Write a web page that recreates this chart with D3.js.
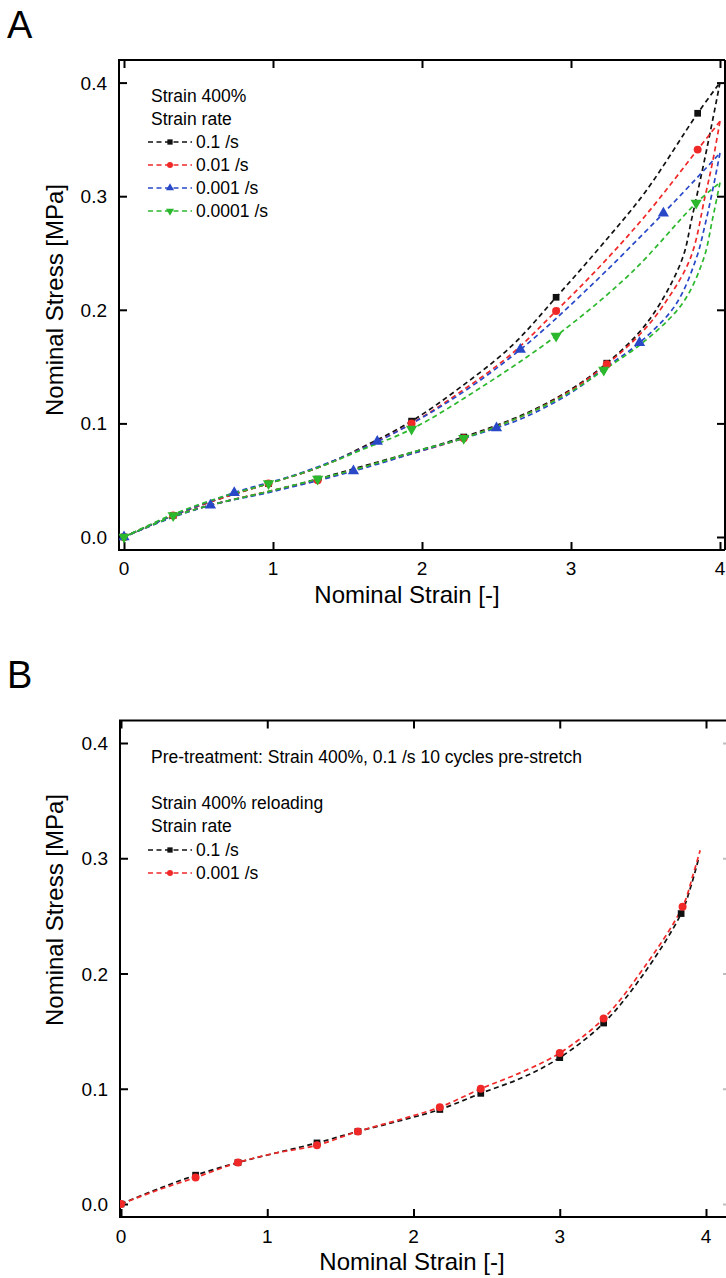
<!DOCTYPE html>
<html>
<head>
<meta charset="utf-8">
<script src="https://cdn.jsdelivr.net/npm/d3@7"></script>
<style>
  html, body { margin: 0; padding: 0; background: #fff; }
  svg { display: block; font-family: "Liberation Sans", Arial, Helvetica, sans-serif; }
</style>
</head>
<body>
<svg id="chart" width="726" height="1278"></svg>
<script>
// ---------- tick labels ----------
const xTicks = [0, 1, 2, 3, 4];
const xTickLabels = ["0", "1", "2", "3", "4"];
const yTicks = [0.0, 0.1, 0.2, 0.3, 0.4];
const yTickLabels = ["0.0", "0.1", "0.2", "0.3", "0.4"];

// ---------- panel A : series names ----------
const ratesA = ["0.1 /s", "0.01 /s", "0.001 /s", "0.0001 /s"];
const colorsA = ["#111111", "#f02828", "#2848c8", "#2cb82c"];
const symbolsA = ["square", "circle", "triangle", "triangleDown"];

// 0.1 /s
const a1LoadStrain   = [0, 0.33, 0.65, 0.97, 1.3, 1.6, 1.93, 2.25, 2.6, 2.9, 3.2, 3.5, 3.85, 4.0];
const a1LoadStress   = [0, 0.019, 0.034, 0.047, 0.061, 0.079, 0.102, 0.131, 0.168, 0.211, 0.256, 0.304, 0.373, 0.400];
const a1UnloadStrain = [4.0, 3.94, 3.88, 3.81, 3.75, 3.6, 3.45, 3.24, 3.0, 2.7, 2.28, 2.0, 1.54, 1.3, 1.0, 0.58, 0.33, 0];
const a1UnloadStress = [0.400, 0.360, 0.322, 0.280, 0.246, 0.206, 0.179, 0.153, 0.130, 0.109, 0.088, 0.077, 0.060, 0.051, 0.041, 0.028, 0.018, 0];
const a1MarkStrain   = [0, 0.33, 0.97, 1.93, 2.9, 3.85, 3.24, 2.28, 1.3];
const a1MarkStress   = [0, 0.019, 0.047, 0.102, 0.211, 0.373, 0.153, 0.088, 0.051];

// 0.01 /s
const a2LoadStrain   = [0, 0.33, 0.65, 0.97, 1.3, 1.6, 1.93, 2.25, 2.6, 2.9, 3.2, 3.5, 3.85, 4.0];
const a2LoadStress   = [0, 0.019, 0.034, 0.047, 0.061, 0.078, 0.100, 0.127, 0.161, 0.199, 0.239, 0.283, 0.341, 0.366];
const a2UnloadStrain = [4.0, 3.95, 3.9, 3.8, 3.62, 3.46, 3.24, 3.0, 2.7, 2.28, 2.0, 1.54, 1.3, 1.0, 0.58, 0.33, 0];
const a2UnloadStress = [0.366, 0.330, 0.300, 0.245, 0.204, 0.178, 0.152, 0.129, 0.108, 0.087, 0.076, 0.059, 0.050, 0.041, 0.028, 0.018, 0];
const a2MarkStrain   = [0, 0.33, 0.97, 1.93, 2.9, 3.85, 3.24, 2.28, 1.3];
const a2MarkStress   = [0, 0.019, 0.047, 0.100, 0.199, 0.341, 0.152, 0.087, 0.050];

// 0.001 /s
const a3LoadStrain   = [0, 0.33, 0.74, 1.2, 1.7, 2.2, 2.66, 3.1, 3.62, 4.0];
const a3LoadStress   = [0, 0.019, 0.039, 0.057, 0.084, 0.121, 0.165, 0.217, 0.285, 0.338];
const a3UnloadStrain = [4.0, 3.95, 3.9, 3.84, 3.7, 3.46, 3.24, 3.0, 2.7, 2.5, 2.0, 1.54, 1.0, 0.58, 0.3, 0];
const a3UnloadStress = [0.338, 0.305, 0.275, 0.245, 0.204, 0.171, 0.150, 0.127, 0.106, 0.096, 0.076, 0.058, 0.040, 0.028, 0.016, 0];
const a3MarkStrain   = [0, 0.74, 1.7, 2.66, 3.62, 3.46, 2.5, 1.54, 0.58];
const a3MarkStress   = [0, 0.039, 0.084, 0.165, 0.285, 0.171, 0.096, 0.058, 0.028];

// 0.0001 /s
const a4LoadStrain   = [0, 0.33, 0.65, 0.97, 1.3, 1.6, 1.93, 2.4, 2.9, 3.4, 3.84, 4.0];
const a4LoadStress   = [0, 0.020, 0.035, 0.047, 0.061, 0.077, 0.095, 0.132, 0.177, 0.232, 0.294, 0.312];
const a4UnloadStrain = [4.0, 3.95, 3.89, 3.75, 3.5, 3.22, 3.0, 2.7, 2.28, 2.0, 1.54, 1.3, 1.0, 0.58, 0.33, 0];
const a4UnloadStress = [0.312, 0.280, 0.245, 0.206, 0.173, 0.147, 0.128, 0.108, 0.087, 0.077, 0.059, 0.051, 0.041, 0.028, 0.018, 0];
const a4MarkStrain   = [0, 0.33, 0.97, 1.93, 2.9, 3.84, 3.22, 2.28, 1.3];
const a4MarkStress   = [0, 0.019, 0.047, 0.095, 0.177, 0.294, 0.147, 0.087, 0.051];

// ---------- panel B ----------
const ratesB = ["0.1 /s", "0.001 /s"];
const colorsB = ["#111111", "#f02828"];
const symbolsB = ["square", "circle"];

const b1Strain = [0, 0.25, 0.51, 0.80, 1.05, 1.34, 1.62, 1.9, 2.18, 2.46, 2.75, 3.0, 3.3, 3.57, 3.83, 3.9, 3.95];
const b1Stress = [0, 0.013, 0.025, 0.036, 0.044, 0.053, 0.063, 0.072, 0.082, 0.096, 0.110, 0.127, 0.157, 0.199, 0.252, 0.277, 0.300];
const b1MarkStrain = [0, 0.51, 0.80, 1.34, 1.62, 2.18, 2.46, 3.0, 3.3, 3.83];
const b1MarkStress = [0, 0.025, 0.036, 0.053, 0.063, 0.082, 0.096, 0.127, 0.157, 0.252];

const b2Strain = [0, 0.25, 0.51, 0.80, 1.05, 1.34, 1.62, 1.9, 2.18, 2.46, 2.75, 3.0, 3.3, 3.57, 3.84, 3.91, 3.96];
const b2Stress = [0, 0.012, 0.023, 0.036, 0.044, 0.051, 0.063, 0.073, 0.084, 0.100, 0.115, 0.131, 0.161, 0.204, 0.258, 0.285, 0.307];
const b2MarkStrain = [0, 0.51, 0.80, 1.34, 1.62, 2.18, 2.46, 3.0, 3.3, 3.84];
const b2MarkStress = [0, 0.023, 0.036, 0.051, 0.063, 0.084, 0.100, 0.131, 0.161, 0.258];

// ---------- drawing ----------
const svg = d3.select("#chart");
const FONT = "'Liberation Sans', Arial, Helvetica, sans-serif";
const zip = (xs, ys) => xs.map((x, i) => [x, ys[i]]);

function symbolPath(kind, size) {
  const map = {square: d3.symbolSquare, circle: d3.symbolCircle, triangle: d3.symbolTriangle, triangleDown: d3.symbolTriangle};
  return d3.symbol().type(map[kind]).size(size)();
}

function drawPanel(cfg) {
  const g = svg.append("g");
  const x = d3.scaleLinear().domain([0, 4]).range(cfg.xRange);
  const y = d3.scaleLinear().domain([0, 0.4]).range(cfg.yRange);
  const {L, R, T, B} = cfg.frame;

  const clipId = "clip" + cfg.id;
  svg.append("clipPath").attr("id", clipId)
    .append("rect").attr("x", L).attr("y", T).attr("width", R - L).attr("height", B - T);

  // frame
  g.append("path")
    .attr("d", `M${L},${B}V${T}H${R}`)
    .attr("fill", "none").attr("stroke", "#000").attr("stroke-width", 2);
  g.append("line").attr("x1", L - 1).attr("x2", R).attr("y1", B).attr("y2", B)
    .attr("stroke", "#000").attr("stroke-width", 2);
  g.append("line").attr("x1", R).attr("x2", R).attr("y1", T).attr("y2", B)
    .attr("stroke", "#000").attr("stroke-width", 2).attr("opacity", cfg.rightOpacity);

  // axes with inward ticks
  const tl = 8;
  const axB = d3.axisBottom(x).tickValues(xTicks).tickSize(-tl).tickFormat("");
  const axT = d3.axisTop(x).tickValues(xTicks).tickSize(-tl).tickFormat("");
  const axL = d3.axisLeft(y).tickValues(yTicks).tickSize(-tl).tickFormat("");
  const axR = d3.axisRight(y).tickValues(yTicks).tickSize(-tl).tickFormat("");
  const styleAx = sel => { sel.select(".domain").remove(); sel.selectAll("line").attr("stroke", "#000").attr("stroke-width", 2); };
  g.append("g").attr("transform", `translate(0,${B})`).call(axB).call(styleAx);
  g.append("g").attr("transform", `translate(0,${T})`).call(axT).call(styleAx);
  g.append("g").attr("transform", `translate(${L},0)`).call(axL).call(styleAx);
  g.append("g").attr("transform", `translate(${R},0)`).call(axR).call(styleAx).attr("opacity", cfg.rightOpacity);

  // tick labels
  g.selectAll(".xl").data(xTicks).enter().append("text")
    .attr("x", d => x(d)).attr("y", cfg.xLabelY)
    .attr("text-anchor", "middle").attr("font-size", 19).attr("font-family", FONT)
    .text((d, i) => xTickLabels[i]);
  g.selectAll(".yl").data(yTicks).enter().append("text")
    .attr("x", L - 12).attr("y", d => y(d) + 7)
    .attr("text-anchor", "end").attr("font-size", 19).attr("font-family", FONT)
    .text((d, i) => yTickLabels[i]);

  // axis titles
  g.append("text").attr("x", cfg.xTitleX).attr("y", cfg.xTitleY)
    .attr("text-anchor", "middle").attr("font-size", 24).attr("font-family", FONT)
    .text("Nominal Strain [-]");
  g.append("text")
    .attr("transform", `translate(${cfg.yTitleX},${cfg.yTitleY}) rotate(-90)`)
    .attr("text-anchor", "middle").attr("font-size", 24).attr("font-family", FONT)
    .text("Nominal Stress [MPa]");

  // panel letter
  g.append("text").attr("x", 7).attr("y", cfg.letterY)
    .attr("font-size", 38).attr("font-family", FONT).text(cfg.letter);

  // curves
  const line = d3.line().x(d => x(d[0])).y(d => y(d[1])).curve(d3.curveCatmullRom.alpha(0.5));
  const plot = g.append("g").attr("clip-path", `url(#${clipId})`);
  cfg.series.forEach(s => {
    s.paths.forEach(p => {
      plot.append("path").attr("d", line(p))
        .attr("fill", "none").attr("stroke", s.color).attr("stroke-width", 1.7)
        .attr("stroke-dasharray", "5,3.5");
    });
  });
  cfg.series.forEach(s => {
    plot.selectAll(null).data(s.marks).enter().append("path")
      .attr("d", symbolPath(s.symbol, s.symbol === "circle" ? 50 : (s.symbol === "square" ? 45 : 55)))
      .attr("transform", d => `translate(${x(d[0])},${y(d[1])})${s.symbol === "triangleDown" ? " rotate(180)" : ""}`)
      .attr("fill", s.color);
  });

  // legend
  const lg = g.append("g");
  cfg.legendHeader.forEach((t, i) => {
    lg.append("text").attr("x", cfg.legendX + 4).attr("y", cfg.legendHeaderY[i])
      .attr("font-size", 17.5).attr("font-family", FONT).text(t);
  });
  cfg.series.forEach((s, i) => {
    const yy = cfg.legendY0 + i * cfg.legendDy;
    lg.append("line").attr("x1", cfg.legendX + 1).attr("x2", cfg.legendX + 45)
      .attr("y1", yy).attr("y2", yy)
      .attr("stroke", s.color).attr("stroke-width", 1.7).attr("stroke-dasharray", "5,3.5");
    lg.append("path").attr("d", symbolPath(s.symbol, 28))
      .attr("transform", `translate(${cfg.legendX + 23},${yy})${s.symbol === "triangleDown" ? " rotate(180)" : ""}`)
      .attr("fill", s.color);
    lg.append("text").attr("x", cfg.legendX + 49).attr("y", yy + 6)
      .attr("font-size", 17.5).attr("font-family", FONT).text(s.name);
  });
}

const seriesA = [
  {name: ratesA[0], color: colorsA[0], symbol: symbolsA[0], paths: [zip(a1LoadStrain, a1LoadStress), zip(a1UnloadStrain, a1UnloadStress)], marks: zip(a1MarkStrain, a1MarkStress)},
  {name: ratesA[1], color: colorsA[1], symbol: symbolsA[1], paths: [zip(a2LoadStrain, a2LoadStress), zip(a2UnloadStrain, a2UnloadStress)], marks: zip(a2MarkStrain, a2MarkStress)},
  {name: ratesA[2], color: colorsA[2], symbol: symbolsA[2], paths: [zip(a3LoadStrain, a3LoadStress), zip(a3UnloadStrain, a3UnloadStress)], marks: zip(a3MarkStrain, a3MarkStress)},
  {name: ratesA[3], color: colorsA[3], symbol: symbolsA[3], paths: [zip(a4LoadStrain, a4LoadStress), zip(a4UnloadStrain, a4UnloadStress)], marks: zip(a4MarkStrain, a4MarkStress)}
];

const seriesB = [
  {name: ratesB[0], color: colorsB[0], symbol: symbolsB[0], paths: [zip(b1Strain, b1Stress)], marks: zip(b1MarkStrain, b1MarkStress)},
  {name: ratesB[1], color: colorsB[1], symbol: symbolsB[1], paths: [zip(b2Strain, b2Stress)], marks: zip(b2MarkStrain, b2MarkStress)}
];

drawPanel({
  id: "A", letter: "A", letterY: 38,
  xRange: [124, 720], yRange: [537, 82.6],
  frame: {L: 119, R: 725, T: 60, B: 550},
  rightOpacity: 1,
  xLabelY: 575, xTitleX: 407, xTitleY: 603, yTitleX: 63, yTitleY: 300,
  legendX: 147, legendHeader: ["Strain 400%", "Strain rate"], legendHeaderY: [102, 125],
  legendY0: 142, legendDy: 23,
  series: seriesA
});

drawPanel({
  id: "B", letter: "B", letterY: 688,
  xRange: [121, 706], yRange: [1204, 743],
  frame: {L: 120, R: 731, T: 720.5, B: 1217},
  rightOpacity: 0.25,
  xLabelY: 1243, xTitleX: 412, xTitleY: 1270, yTitleX: 63, yTitleY: 910,
  legendX: 147,
  legendHeader: ["Pre-treatment: Strain 400%, 0.1 /s 10 cycles pre-stretch", "Strain 400% reloading", "Strain rate"],
  legendHeaderY: [763, 809, 832],
  legendY0: 850, legendDy: 23,
  series: seriesB
});
</script>
</body>
</html>
